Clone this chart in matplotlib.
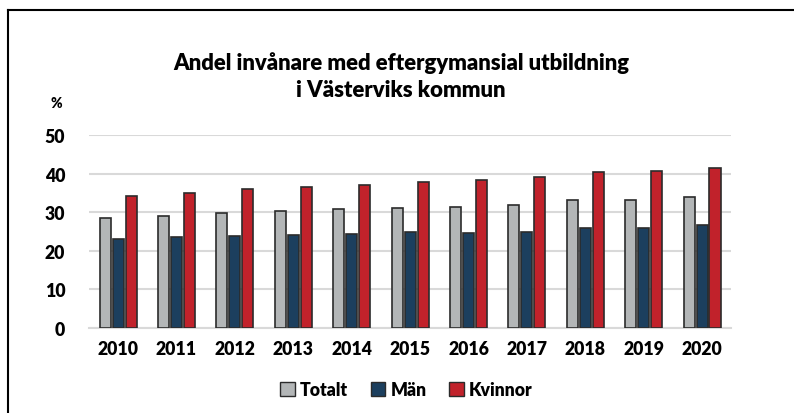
import matplotlib
matplotlib.use("Agg")
import matplotlib.pyplot as plt
from matplotlib.lines import Line2D
from matplotlib.patches import Patch
import numpy as np

years = ["2010", "2011", "2012", "2013", "2014", "2015", "2016", "2017", "2018", "2019", "2020"]
totalt = [28.6, 29.1, 29.8, 30.2, 30.8, 31.2, 31.4, 31.8, 33.1, 33.2, 33.9]
man = [23.1, 23.5, 23.8, 24.0, 24.4, 24.8, 24.7, 24.8, 26.0, 26.0, 26.6]
kvinnor = [34.3, 35.0, 35.9, 36.5, 37.1, 37.9, 38.4, 39.1, 40.4, 40.7, 41.6]
series_names = ["Totalt", "Män", "Kvinnor"]
colors = ["#B3B6B7", "#1C3F5E", "#C1222B"]

WT = 'heavy'
plt.rcParams['font.family'] = ['Lato', 'DejaVu Sans']
plt.rcParams['font.weight'] = WT

fig = plt.figure(figsize=(7.94, 4.14), dpi=100)
ax = fig.add_axes([0.112, 0.206, 0.809, 0.465])

x = np.arange(len(years))
w = 0.19
step = 0.222
edge = "#2b2b2b"
for i, (vals, c) in enumerate(zip([totalt, man, kvinnor], colors)):
    ax.bar(x + (i - 1) * step, vals, width=w, color=c, edgecolor=edge, linewidth=1.2, zorder=3)

ax.set_xlim(-0.5, len(years) - 0.5)
ax.set_ylim(0, 50)
ax.set_yticks([0, 10, 20, 30, 40, 50])
ax.set_xticks(x)
ax.set_xticklabels(years)
ax.tick_params(axis='both', length=0, labelsize=12.7)
ax.tick_params(axis='y', pad=17)
ax.tick_params(axis='x', pad=9)
for lab in ax.get_xticklabels() + ax.get_yticklabels():
    lab.set_fontweight(WT)
ax.grid(axis='y', color='#D9D9D9', linewidth=1.5, zorder=0)
ax.set_axisbelow(True)
for s in ['top', 'right', 'left']:
    ax.spines[s].set_visible(False)
ax.spines['bottom'].set_color('#D9D9D9')
ax.spines['bottom'].set_linewidth(1.5)

fig.text(0.505, 0.815, "Andel invånare med eftergymansial utbildning\ni Västerviks kommun",
         ha='center', va='center', fontsize=15.9, fontweight=WT, linespacing=1.4)
fig.text(0.063, 0.75, "%", ha='left', va='center', fontsize=10, fontweight=WT)

handles = [Patch(facecolor=c, edgecolor=edge, linewidth=1.0) for c in colors]
fig.legend(handles, series_names, loc='center', bbox_to_anchor=(0.512, 0.057), ncol=3,
           frameon=False, prop={'weight': WT, 'size': 12.7}, handlelength=0.8,
           handleheight=0.8, handletextpad=0.3, columnspacing=1.3)

fig.add_artist(Line2D([0.0107, 0.0107], [0, 0.973], transform=fig.transFigure, color='black', linewidth=1.5))
fig.add_artist(Line2D([0.0107, 1.0], [0.973, 0.973], transform=fig.transFigure, color='black', linewidth=1.5))

fig.savefig("out.png", dpi=100)
